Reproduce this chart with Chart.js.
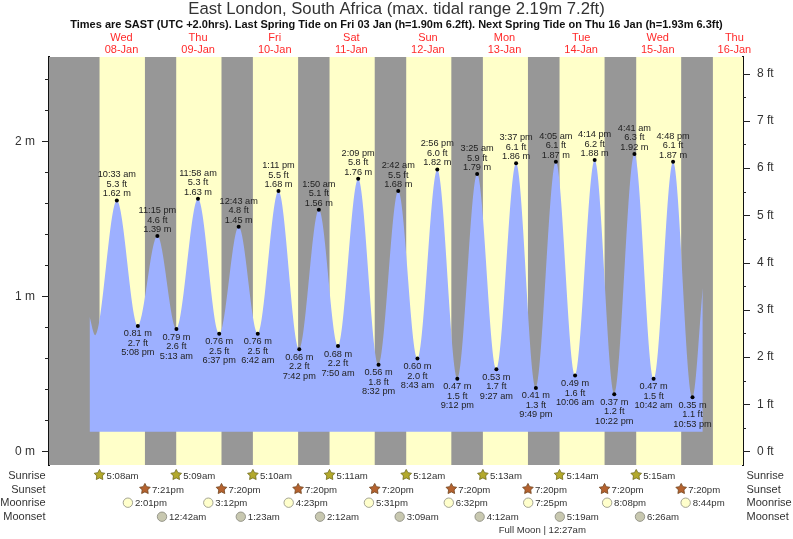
<!DOCTYPE html>
<html><head><meta charset="utf-8">
<style>html,body{margin:0;padding:0;background:#fff}canvas{display:block}</style>
<script src="https://cdn.jsdelivr.net/npm/chart.js@4"></script>
</head><body><canvas id="c" width="793" height="539"></canvas>
<script>
const titleText = "East London, South Africa (max. tidal range 2.19m 7.2ft)";
const subtitleText = "Times are SAST (UTC +2.0hrs). Last Spring Tide on Fri 03 Jan (h=1.90m 6.2ft). Next Spring Tide on Thu 16 Jan (h=1.93m 6.3ft)";
const dayNames = ["Wed","Thu","Fri","Sat","Sun","Mon","Tue","Wed","Thu"];
const dayDates = ["08-Jan","09-Jan","10-Jan","11-Jan","12-Jan","13-Jan","14-Jan","15-Jan","16-Jan"];

const tideDays = [0,0,0, 1,1,1, 2,2,2,2, 3,3,3,3, 4,4,4,4, 5,5,5,5, 6,6,6,6, 7,7,7,7];
const tideTimes = ["10:33 am","5:08 pm","11:15 pm","5:13 am","11:58 am","6:37 pm",
  "12:43 am","6:42 am","1:11 pm","7:42 pm","1:50 am","7:50 am","2:09 pm","8:32 pm",
  "2:42 am","8:43 am","2:56 pm","9:12 pm","3:25 am","9:27 am","3:37 pm","9:49 pm",
  "4:05 am","10:06 am","4:14 pm","10:22 pm","4:41 am","10:42 am","4:48 pm","10:53 pm"];
const tideMetres = [1.62,0.81,1.39,0.79,1.63,0.76,1.45,0.76,1.68,0.66,1.56,0.68,1.76,0.56,
  1.68,0.60,1.82,0.47,1.79,0.53,1.86,0.41,1.87,0.49,1.88,0.37,1.92,0.47,1.87,0.35];
const tideFeet = [5.3,2.7,4.6,2.6,5.3,2.5,4.8,2.5,5.5,2.2,5.1,2.2,5.8,1.8,
  5.5,2.0,6.0,1.5,5.9,1.7,6.1,1.3,6.1,1.6,6.2,1.2,6.3,1.5,6.1,1.1];
const leadHours = [2.0,3.8];
const leadMetres = [0.87,0.75];
const tailHours = [194.1];
const tailMetres = [1.055];
const tideBase = 0.128;

const sunriseTimes = ["5:08am","5:09am","5:10am","5:11am","5:12am","5:13am","5:14am","5:15am"];
const sunsetTimes = ["7:21pm","7:20pm","7:20pm","7:20pm","7:20pm","7:20pm","7:20pm","7:20pm"];
const moonriseTimes = ["2:01pm","3:12pm","4:23pm","5:31pm","6:32pm","7:25pm","8:08pm","8:44pm"];
const moonsetTimes = ["12:42am","1:23am","2:12am","3:09am","4:12am","5:19am","6:26am"];
const moonsetDays = [1,2,3,4,5,6,7];
const lastSunrise = "5:16am";
const fullMoonText = "Full Moon | 12:27am";
const fullMoonDay = 6, fullMoonTime = "12:27am";

const hourMin = -10.7, hourMax = 206.7;
const mMin = -0.0871, mMax = 2.545, ftPerM = 3.2808;

function hrs(day, t){
  const m = t.match(/(\d+):(\d+)\s*(am|pm)/);
  let h = +m[1] % 12; if (m[3] === "pm") h += 12;
  return day*24 + h + (+m[2])/60;
}
const tideHours = tideTimes.map((t,i)=>hrs(tideDays[i],t));
const points = [];
leadHours.forEach((h,i)=>points.push({x:h,y:leadMetres[i]}));
tideHours.forEach((h,i)=>points.push({x:h,y:tideMetres[i]}));
tailHours.forEach((h,i)=>points.push({x:h,y:tailMetres[i]}));
const FONT = '"Liberation Sans", Arial, sans-serif';

function star(ctx,x,y,r,fill,edge){
  ctx.beginPath();
  for(let i=0;i<10;i++){
    const a=-Math.PI/2+i*Math.PI/5, q=i%2?r*0.52:r;
    ctx.lineTo(x+q*Math.cos(a),y+q*Math.sin(a));
  }
  ctx.closePath();ctx.fillStyle=fill;ctx.fill();ctx.lineWidth=0.8;ctx.strokeStyle=edge;ctx.stroke();
}
function disc(ctx,x,y,r,fill,edge){
  ctx.beginPath();ctx.arc(x,y,r,0,Math.PI*2);ctx.fillStyle=fill;ctx.fill();
  ctx.lineWidth=0.8;ctx.strokeStyle=edge;ctx.stroke();
}

const bandsPlugin = {
  id:"bands",
  beforeDatasetsDraw(chart){
    const {ctx,chartArea:a,scales:{x}}=chart;
    ctx.save();
    ctx.fillStyle="#979797";
    ctx.fillRect(a.left,a.top,a.right-a.left,a.bottom-a.top);
    ctx.fillStyle="#ffffc9";
    sunriseTimes.forEach((t,i)=>{
      const x0=x.getPixelForValue(hrs(i,t)),x1=x.getPixelForValue(hrs(i,sunsetTimes[i]));
      ctx.fillRect(x0,a.top,x1-x0,a.bottom-a.top);
    });
    const x2=x.getPixelForValue(hrs(8,lastSunrise));
    ctx.fillRect(x2,a.top,a.right-x2,a.bottom-a.top);
    ctx.restore();
  }
};
const labelsPlugin = {
  id:"tideLabels",
  afterDatasetsDraw(chart){
    const {ctx,scales:{x,y}}=chart;
    ctx.save();
    ctx.font="9.2px "+FONT;ctx.textAlign="center";ctx.textBaseline="middle";ctx.fillStyle="#222";
    tideTimes.forEach((t,i)=>{
      const px=x.getPixelForValue(tideHours[i]),py=y.getPixelForValue(tideMetres[i]);
      const m=tideMetres[i].toFixed(2)+" m",f=tideFeet[i].toFixed(1)+" ft";
      if(tideMetres[i]>1){
        ctx.fillText(m,px,py-6.5);ctx.fillText(f,px,py-16);ctx.fillText(t,px,py-25.5);
      }else{
        ctx.fillText(m,px,py+8);ctx.fillText(f,px,py+17.5);ctx.fillText(t,px,py+27);
      }
    });
    ctx.restore();
  },
  afterDraw(chart){
    const {ctx,chartArea:a,scales:{x,y,yr}}=chart;
    ctx.save();
    ctx.strokeStyle="#222";ctx.lineWidth=1;
    y.ticks.forEach(t=>{
      const p=Math.round(y.getPixelForValue(t.value))+0.5,major=Math.abs(t.value-Math.round(t.value))<1e-6;
      ctx.beginPath();ctx.moveTo(a.left,p);ctx.lineTo(a.left-(major?7:4),p);ctx.stroke();
    });
    yr.ticks.forEach(t=>{
      const p=Math.round(yr.getPixelForValue(t.value))+0.5,major=Math.abs(t.value-Math.round(t.value))<1e-6;
      ctx.beginPath();ctx.moveTo(a.right,p);ctx.lineTo(a.right+(major?7:3),p);ctx.stroke();
    });
    const rows=[["Sunrise",476],["Sunset",490],["Moonrise",503],["Moonset",517]];
    ctx.font="11px "+FONT;ctx.fillStyle="#333";ctx.textBaseline="middle";
    rows.forEach(([n,ry])=>{
      ctx.textAlign="right";ctx.fillText(n,45.5,ry);
      ctx.textAlign="left";ctx.fillText(n,746.5,ry);
    });
    const small=(s,px,ry)=>{ctx.font="9.6px "+FONT;ctx.fillStyle="#333";ctx.textAlign="left";ctx.fillText(s,px+7,ry);};
    sunriseTimes.forEach((t,i)=>{const p=x.getPixelForValue(hrs(i,t));star(ctx,p,475,5.6,"#b3a92c","#6f6a1c");small(t,p,476);});
    sunsetTimes.forEach((t,i)=>{const p=x.getPixelForValue(hrs(i,t));star(ctx,p,489,5.6,"#b5622f","#70451f");small(t,p,490);});
    moonriseTimes.forEach((t,i)=>{const p=x.getPixelForValue(hrs(i,t));disc(ctx,p,502.7,4.7,"#ffffcc","#8e8e80");small(t,p,503.5);});
    moonsetTimes.forEach((t,i)=>{const p=x.getPixelForValue(hrs(moonsetDays[i],t));disc(ctx,p,516.7,4.7,"#c8c8b0","#85857a");small(t,p,517);});
    ctx.font="9.6px "+FONT;ctx.fillStyle="#333";ctx.textAlign="center";
    ctx.fillText(fullMoonText,x.getPixelForValue(hrs(fullMoonDay,fullMoonTime))-2,530);
    ctx.restore();
  }
};
const isInt=v=>Math.abs(v-Math.round(v))<1e-6;

new Chart(document.getElementById("c"),{
  type:"line",
  data:{datasets:[{
    data:points,
    fill:{value:tideBase},
    backgroundColor:"#9db0ff",
    borderWidth:0,borderColor:"rgba(0,0,0,0)",
    cubicInterpolationMode:"monotone",
    pointRadius:c=>(c.dataIndex<leadHours.length||c.dataIndex>=leadHours.length+tideHours.length)?0:2,
    pointBackgroundColor:"#000",pointBorderWidth:0
  }]},
  plugins:[bandsPlugin,labelsPlugin],
  options:{
    responsive:false,animation:false,devicePixelRatio:1,
    layout:{autoPadding:false,padding:{left:0,right:0,top:0,bottom:74}},
    plugins:{
      legend:{display:false},tooltip:{enabled:false},
      title:{display:true,text:titleText,color:"#333",font:{family:FONT,size:16.7,weight:"normal",lineHeight:1.078},padding:{top:0,bottom:0}},
      subtitle:{display:true,text:subtitleText,color:"#111",font:{family:FONT,size:11,weight:"bold",lineHeight:1.273},padding:{top:0,bottom:0}}
    },
    scales:{
      x:{type:"linear",position:"top",min:hourMin,max:hourMax,
        afterBuildTicks:s=>{s.ticks=dayDates.map((d,i)=>({value:i*24+12}));},
        afterFit:s=>{s.height=25;},
        grid:{display:false},border:{display:false},
        ticks:{autoSkip:false,maxRotation:0,minRotation:0,padding:-7,color:"#ff2a2a",
          font:{family:FONT,size:11,lineHeight:1.09},
          callback:(v,i)=>[dayNames[i],dayDates[i]]}},
      y:{type:"linear",position:"left",min:mMin,max:mMax,z:1,
        afterFit:s=>{s.width=49;},
        grid:{drawOnChartArea:false,drawTicks:false},
        border:{display:true,color:"#111",width:2},
        ticks:{stepSize:0.2,includeBounds:false,autoSkip:false,padding:14,color:"#333",
          font:{family:FONT,size:12},callback:v=>isInt(v)?Math.round(v)+" m":""}},
      yr:{type:"linear",position:"right",min:mMin*ftPerM,max:mMax*ftPerM,z:1,
        afterFit:s=>{s.width=50;},
        grid:{drawOnChartArea:false,drawTicks:false},
        border:{display:true,color:"#111",width:2},
        ticks:{stepSize:0.5,includeBounds:false,autoSkip:false,padding:14,color:"#333",
          font:{family:FONT,size:12},callback:v=>isInt(v)?Math.round(v)+" ft":""}}
    }
  }
});
</script></body></html>
